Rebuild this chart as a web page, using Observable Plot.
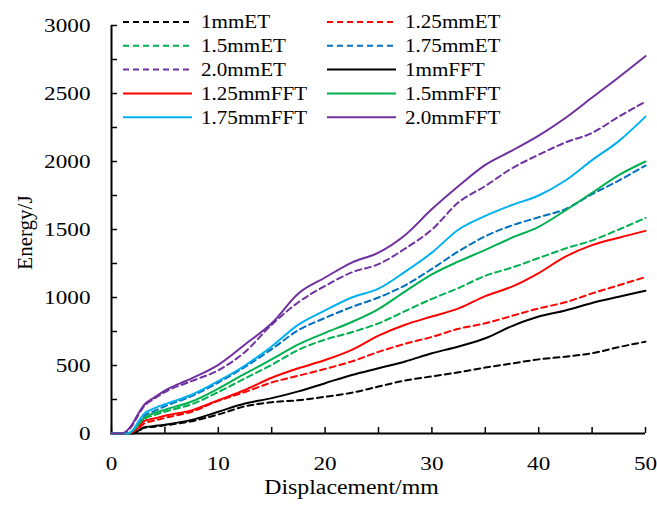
<!DOCTYPE html>
<html><head><meta charset="utf-8">
<script src="https://cdn.jsdelivr.net/npm/d3@7"></script>
<script src="https://cdn.jsdelivr.net/npm/@observablehq/plot@0.6"></script>
<style>
html,body{margin:0;padding:0;background:#fff;}
#chart{position:relative;width:657px;height:505px;}
</style></head><body><div id="chart"></div>
<script>
const displacement = [0, 1, 1.5, 2, 2.5, 3, 4, 5, 7.5, 10, 12.5, 15, 17.5, 20, 22.5, 25, 27.5, 30, 32.5, 35, 37.5, 40, 42.5, 45, 47.5, 50];

const energy1mmET    = [0,0,0,0,15,40,50,60,90,140,200,230,245,270,300,345,390,420,450,485,515,545,565,590,635,675];
const energy125mmET  = [0,0,0,8,35,70,95,115,160,240,305,375,425,475,530,600,660,710,770,810,865,920,965,1030,1090,1150];
const energy15mmET   = [0,0,0,15,55,100,135,160,215,305,405,505,615,690,745,810,900,990,1070,1160,1220,1290,1360,1420,1500,1585];
const energy175mmET  = [0,0,0,20,75,125,165,200,275,375,490,620,760,850,930,1000,1090,1210,1340,1450,1530,1590,1650,1760,1860,1970];
const energy20mmET   = [0,0,20,65,135,195,255,305,385,465,600,800,965,1085,1185,1245,1360,1500,1700,1820,1950,2050,2140,2210,2330,2440];
const energy1mmFFT   = [0,0,0,5,20,45,55,65,100,160,220,260,310,370,430,480,530,590,640,700,790,860,905,960,1005,1050];
const energy125mmFFT = [0,0,0,10,40,90,110,130,170,245,320,410,480,540,615,720,800,860,920,1010,1080,1180,1300,1385,1440,1490];
const energy15mmFFT  = [0,0,0,20,65,110,150,175,235,330,440,545,655,740,820,915,1045,1170,1265,1350,1440,1520,1640,1770,1900,2000];
const energy175mmFFT = [0,0,0,25,85,140,185,215,285,385,500,640,800,905,1000,1065,1190,1330,1500,1600,1680,1750,1860,2010,2150,2330];
const energy20mmFFT  = [0,0,25,75,145,205,265,316,405,505,655,810,1030,1147,1257,1330,1460,1650,1820,1975,2080,2190,2320,2470,2620,2775];

const seriesNames  = ["1mmET","1.25mmET","1.5mmET","1.75mmET","2.0mmET","1mmFFT","1.25mmFFT","1.5mmFFT","1.75mmFFT","2.0mmFFT"];
const seriesValues = [energy1mmET, energy125mmET, energy15mmET, energy175mmET, energy20mmET, energy1mmFFT, energy125mmFFT, energy15mmFFT, energy175mmFFT, energy20mmFFT];
const seriesColors = ["#000000","#ff0000","#00b050","#0070c0","#7030a0","#000000","#ff0000","#00b050","#00b0f0","#7030a0"];
const seriesDashed = [true,true,true,true,true,false,false,false,false,false];

const xTicks = [0,10,20,30,40,50];
const xMinorTicks = [0,5,10,15,20,25,30,35,40,45,50];
const yTicks = [0,500,1000,1500,2000,2500,3000];
const yMinorTicks = [0,250,500,750,1000,1250,1500,1750,2000,2250,2500,2750,3000];

const xTitle = "Displacement/mm";
const yTitle = "Energy/J";

const font = "'Liberation Serif', 'Times New Roman', serif";

const lineMarks = seriesNames.map((name, i) => {
  const rows = displacement.map((d, j) => ({d, e: seriesValues[i][j]}));
  return Plot.line(rows, {
    x: "d", y: "e", stroke: seriesColors[i], strokeWidth: 2,
    strokeDasharray: seriesDashed[i] ? "6,4" : null,
    curve: "monotone-x"
  });
});

const plot = Plot.plot({
  width: 657, height: 505,
  marginLeft: 111, marginRight: 12, marginTop: 25, marginBottom: 72,
  style: {fontFamily: font, background: "white", color: "black"},
  x: {domain: [0, 50]},
  y: {domain: [0, 3000]},
  marks: [
    Plot.axisX(xMinorTicks, {tickSize: -6, tickFormat: () => "", strokeWidth: 1.5, label: null}),
    Plot.axisX(xTicks, {tickSize: 0, tickPadding: 23, fontSize: 19.5, tickFormat: d => String(d), label: null}),
    Plot.axisY(yMinorTicks, {tickSize: -6, tickFormat: () => "", strokeWidth: 1.5, label: null}),
    Plot.axisY(yTicks, {tickSize: 0, tickPadding: 21, fontSize: 19.5, tickFormat: d => String(d), label: null}),
    Plot.ruleX([0], {strokeWidth: 2}),
    Plot.ruleY([0], {strokeWidth: 2}),
    ...lineMarks,
    Plot.text([xTitle], {text: d => d, frameAnchor: "bottom", lineAnchor: "middle", textAnchor: "middle", dy: 54, dx: -27, fontSize: 20}),
    Plot.text([yTitle], {text: d => d, frameAnchor: "left", lineAnchor: "middle", textAnchor: "middle", dx: -86.5, dy: 3, rotate: -90, fontSize: 21})
  ]
});

const chart = document.getElementById("chart");
chart.appendChild(plot);

// widen horizontal texts (the reference glyphs are horizontally stretched)
function stretchText(el, sx) {
  const t = el.getAttribute("transform");
  if (t && t.includes("rotate")) return;
  if (!el.textContent) return;
  if (t) {
    el.setAttribute("transform", t + ` scale(${sx},1)`);
  } else {
    const x = +(el.getAttribute("x") || 0);
    el.setAttribute("transform", `translate(${x},0) scale(${sx},1) translate(${-x},0)`);
  }
}
plot.querySelectorAll("text").forEach(el => stretchText(el, 1.19));

// Legend overlay
const legend = d3.create("svg")
  .attr("width", 657).attr("height", 140)
  .style("position", "absolute").style("left", "0px").style("top", "0px")
  .style("font-family", font);
seriesNames.forEach((name, i) => {
  const col = i % 2, row = Math.floor(i / 2);
  const x0 = col ? 327 : 123;
  const y = 22 + row * 23.8;
  legend.append("line")
    .attr("x1", x0).attr("x2", x0 + 69).attr("y1", y).attr("y2", y)
    .attr("stroke", seriesColors[i]).attr("stroke-width", 2)
    .attr("stroke-dasharray", seriesDashed[i] ? "6,4" : null);
  legend.append("text")
    .attr("transform", `translate(${x0 + 78},${y}) scale(1.14,1)`)
    .attr("dy", "0.35em")
    .attr("font-size", 18.5).attr("fill", "black")
    .text(name);
});
chart.appendChild(legend.node());
</script></body></html>
